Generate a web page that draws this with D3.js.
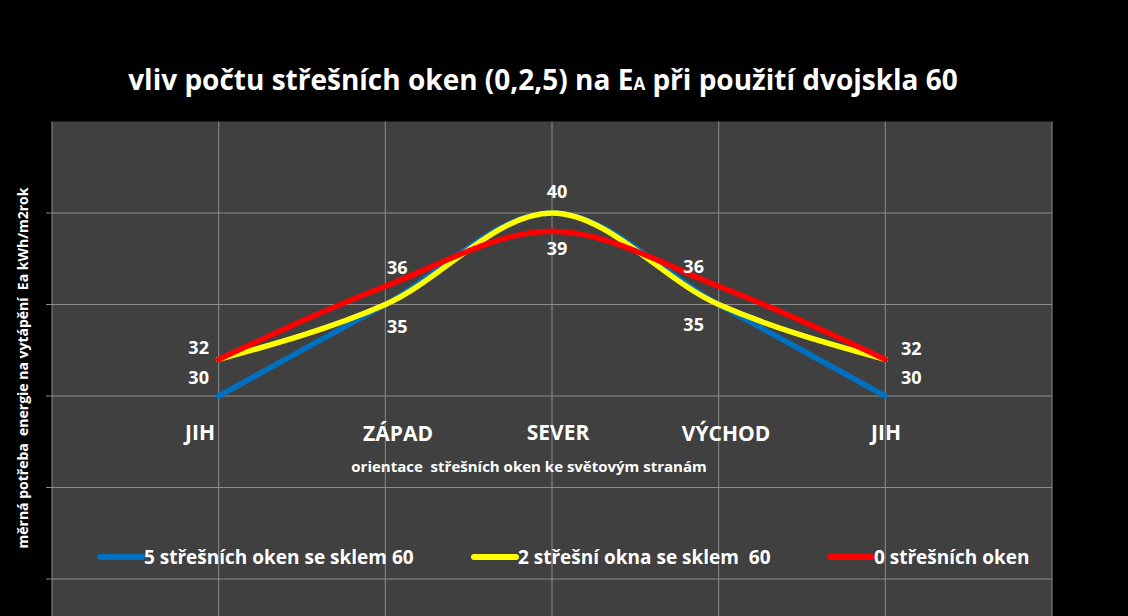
<!DOCTYPE html>
<html><head><meta charset="utf-8">
<script src="https://cdn.jsdelivr.net/npm/d3@7"></script>
<style>body{margin:0;background:#000}svg{display:block}text{font-family:"Open Sans",Lato,sans-serif;fill:#fff;font-weight:bold}</style>
</head><body>
<script>
const categories=["JIH","ZÁPAD","SEVER","VÝCHOD","JIH"];
const blue=[30,35,40,35,30];
const yellow=[32,35,40,35,32];
const red=[32,36,39,36,32];
const yTicks=[15,20,25,30,35,40,45];
const seriesNames=["5 střešních oken se sklem 60","2 střešní okna se sklem  60","0 střešních oken"];
const colors=["#0070c0","#ffff00","#ff0000"];

const W=1128,H=616;
const svg=d3.select("body").append("svg").attr("width",W).attr("height",H);
svg.append("rect").attr("width",W).attr("height",H).attr("fill","#000");
const x=d3.scaleLinear().domain([0,6]).range([52,1052]);
const y=d3.scaleLinear().domain([30,40]).range([396,213]);
svg.append("rect").attr("x",52).attr("y",y(45)).attr("width",1000).attr("height",H-y(45)+10).attr("fill","#404040");
yTicks.filter(t=>t<45).forEach(t=>{
  svg.append("line").attr("x1",46).attr("x2",1052).attr("y1",y(t)).attr("y2",y(t)).attr("stroke","#8c8c8c").attr("stroke-width",1);
});
[1,2,3,4,5].forEach(i=>svg.append("line").attr("x1",x(i)).attr("x2",x(i)).attr("y1",y(45)).attr("y2",H).attr("stroke","#8c8c8c"));
svg.append("line").attr("x1",1052).attr("x2",1052).attr("y1",y(45)).attr("y2",H).attr("stroke","#8c8c8c");
svg.append("line").attr("x1",52).attr("x2",52).attr("y1",y(45)).attr("y2",H).attr("stroke","#8c8c8c");

svg.append("text").attr("x",543).attr("y",90).attr("text-anchor","middle").attr("font-size",28)
 .text("vliv počtu střešních oken (0,2,5) na E").append("tspan").attr("font-size",17).text("A")
 .append("tspan").attr("font-size",28).text(" při použití dvojskla 60");
svg.append("text").attr("transform","translate(28,368) rotate(-90)").attr("text-anchor","middle").attr("font-size",14).attr("xml:space","preserve").text("měrná potřeba  energie na vytápění  Ea kWh/m2rok");

const line=d3.line().x((d,i)=>x(i+1)).y(d=>y(d)).curve(d3.curveMonotoneX);
[blue,yellow,red].forEach((s,k)=>svg.append("path").attr("d",line(s)).attr("fill","none").attr("stroke",colors[k]).attr("stroke-width",5.5).attr("stroke-linecap","round"));

const lab=(t,xx,yy)=>svg.append("text").attr("x",xx).attr("y",yy).attr("text-anchor","middle").attr("font-size",18).attr("font-weight","600").text(t);
lab(yellow[0],x(1)-20,354);lab(blue[0],x(1)-20,384);
lab(red[1],x(2)+12,274);lab(yellow[1],x(2)+12,333);
lab(yellow[2],x(3)+5,198);lab(red[2],x(3)+5,255);
lab(red[3],x(4)-25,273);lab(yellow[3],x(4)-25,331);
lab(red[4],x(5)+26,355);lab(blue[4],x(5)+26,384);

const catX=[200,398,558,726,886];
categories.forEach((c,i)=>svg.append("text").attr("x",catX[i]).attr("y",i%2?441:440).attr("text-anchor","middle").attr("font-size",21).text(c));
svg.append("text").attr("x",529).attr("y",472).attr("text-anchor","middle").attr("font-size",15).attr("font-weight","600").attr("xml:space","preserve").text("orientace  střešních oken ke světovým stranám");

const lx=[100,474,830];
seriesNames.forEach((n,k)=>{
  svg.append("line").attr("x1",lx[k]).attr("x2",lx[k]+42).attr("y1",557).attr("y2",557).attr("stroke",colors[k]).attr("stroke-width",6).attr("stroke-linecap","round");
  svg.append("text").attr("x",lx[k]+44).attr("y",564).attr("font-size",19).attr("font-weight","normal").attr("xml:space","preserve").text(n);
});
</script></body></html>
